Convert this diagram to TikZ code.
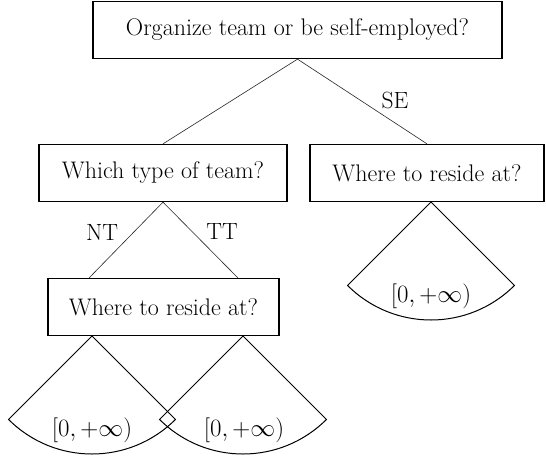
\documentclass[tikz,border=0pt]{standalone}
\usepackage{amsmath}

\begin{document}
\begin{tikzpicture}[
    x = 1pt, y = 1pt,
      question/.style={draw, line width=1.3pt, rectangle, inner sep=0pt, minimum height=57pt, font=\fontsize{24}{28}\selectfont},
      choice/.style={font=\fontsize{23.5}{28}\selectfont},
      payoff/.style={font=\fontsize{23}{27}\selectfont},
      edge/.style={line width=0.6pt, color=black!85},
      sector/.style={line width=1pt}
  ]
      \useasboundingbox (0, 0) rectangle (546, -461);

      % Root question
      \node (root) at (297.5, -30) [question, minimum width=409pt] {Organize team or be self-employed?};

      % Team branch
      \node (whichteam) at (163, -173) [question, minimum width=248pt] {Which type of team?};

      % Self-employed branch
      \node (resideSE) at (427, -173) [question, minimum width=234pt] {Where to reside at?};

      % Team residence
      \node (resideT) at (163.5, -307) [question, minimum width=231pt] {Where to reside at?};

      % Branch ends on the lower box
      \coordinate (ntEnd) at (89, -278);
      \coordinate (ttEnd) at (238, -278);

      % Arrows
      \draw[edge] (root.south) -- (whichteam.north);
      \draw[edge] (root.south) -- (resideSE.north);
      \draw[edge] (whichteam.south) -- (ntEnd);
      \draw[edge] (whichteam.south) -- (ttEnd);

      % Labels
      \node (labelSE) at (395, -100) [choice] {SE};
      \node (labelNT) at (102, -232) [choice] {NT};
      \node (labelTT) at (222, -232) [choice] {TT};

      % Sectors
      \coordinate (apexSE) at (431, -202);
      \coordinate (apexNT) at (92, -336);
      \coordinate (apexTT) at (243, -336);
      \draw[sector] (apexSE) -- ++(-135:118) arc[start angle=-135, end angle=-45, radius=118] -- cycle;
      \draw[sector] (apexNT) -- ++(-135:118) arc[start angle=-135, end angle=-45, radius=118] -- cycle;
      \draw[sector] (apexTT) -- ++(-135:118) arc[start angle=-135, end angle=-45, radius=118] -- cycle;

      % Intervals
      \node (intSE) at (431, -296) [payoff] {$[0,+\infty)$};
      \node (intNT) at (92, -430) [payoff] {$[0,+\infty)$};
      \node (intTT) at (244, -430) [payoff] {$[0,+\infty)$};
  \end{tikzpicture}
\end{document}
